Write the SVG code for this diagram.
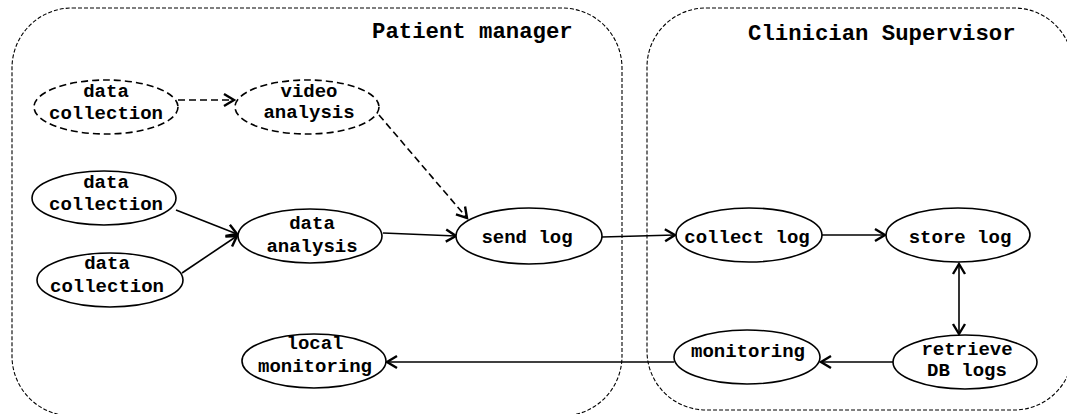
<svg xmlns="http://www.w3.org/2000/svg" width="1067" height="414" viewBox="0 0 1067 414">
  <style>
    .lane { fill: none; stroke: #000; stroke-width: 1.1; stroke-dasharray: 4 2; }
    .title { font-family: "Liberation Mono", "Courier New", monospace; font-weight: bold; font-size: 22.3px; fill: #000; }
    .node { fill: #fff; stroke: #000; stroke-width: 1.6; }
    .node.opt { stroke-dasharray: 7 4; }
    .lbl { font-family: "Liberation Mono", "Courier New", monospace; font-weight: bold; font-size: 19px; fill: #000; text-anchor: middle; }
    .edge { fill: none; stroke: #000; stroke-width: 1.6; marker-end: url(#arrow); }
    .edge.opt { stroke-dasharray: 7 4; }
    .edge.both { marker-start: url(#arrow); }
  </style>
  <defs>
    <marker id="arrow" markerUnits="userSpaceOnUse" markerWidth="14" markerHeight="16" refX="11" refY="7" orient="auto-start-reverse" viewBox="0 0 14 14">
      <path d="M1,1 L11,7 L1,13" fill="none" stroke="#000" stroke-width="2.4" stroke-linejoin="miter"/>
    </marker>
  </defs>
  <rect width="1067" height="414" fill="#fff"/>

  <!-- swimlanes -->
  <g id="lane-patient">
    <rect class="lane" x="12" y="8" width="610" height="408" rx="60" ry="60"/>
    <text class="title" x="372" y="38">Patient manager</text>
  </g>
  <g id="lane-clinician">
    <rect class="lane" x="647" y="8" width="426" height="402" rx="59" ry="59"/>
    <text class="title" x="748" y="40">Clinician Supervisor</text>
  </g>

  <!-- connectors -->
  <g id="connectors">
    <line class="edge opt" x1="178" y1="100" x2="234" y2="100"/>
    <line class="edge opt" x1="379" y1="115" x2="467" y2="218"/>
    <line class="edge" x1="176" y1="210" x2="237" y2="234"/>
    <line class="edge" x1="182" y1="273" x2="237" y2="236"/>
    <line class="edge" x1="383" y1="233" x2="456" y2="236"/>
    <line class="edge" x1="602" y1="237" x2="675" y2="235"/>
    <line class="edge" x1="822" y1="235" x2="885" y2="235"/>
    <line class="edge both" x1="959" y1="264" x2="959" y2="334"/>
    <line class="edge" x1="893" y1="362" x2="821" y2="362"/>
    <line class="edge" x1="674" y1="362" x2="387" y2="362"/>
  </g>

  <!-- nodes -->
  <g id="n-collect-video">
    <ellipse class="node opt" cx="106" cy="107" rx="72" ry="27"/>
    <text class="lbl" x="106" y="97">data</text>
    <text class="lbl" x="106" y="119">collection</text>
  </g>
  <g id="n-video-analysis">
    <ellipse class="node opt" cx="307" cy="107" rx="72" ry="27"/>
    <text class="lbl" x="309" y="97">video</text>
    <text class="lbl" x="309" y="118">analysis</text>
  </g>
  <g id="n-collect-a">
    <ellipse class="node" cx="104" cy="198" rx="72" ry="27"/>
    <text class="lbl" x="106" y="188">data</text>
    <text class="lbl" x="106" y="210">collection</text>
  </g>
  <g id="n-collect-b">
    <ellipse class="node" cx="110" cy="280" rx="73" ry="27"/>
    <text class="lbl" x="107" y="269">data</text>
    <text class="lbl" x="107" y="292">collection</text>
  </g>
  <g id="n-data-analysis">
    <ellipse class="node" cx="310" cy="236" rx="72" ry="27"/>
    <text class="lbl" x="312" y="229">data</text>
    <text class="lbl" x="312" y="252">analysis</text>
  </g>
  <g id="n-send-log">
    <ellipse class="node" cx="529" cy="236" rx="73" ry="28"/>
    <text class="lbl" x="527" y="243">send log</text>
  </g>
  <g id="n-collect-log">
    <ellipse class="node" cx="749" cy="235" rx="73" ry="27"/>
    <text class="lbl" x="747" y="243">collect log</text>
  </g>
  <g id="n-store-log">
    <ellipse class="node" cx="958" cy="235" rx="72" ry="27"/>
    <text class="lbl" x="960" y="243">store log</text>
  </g>
  <g id="n-monitoring">
    <ellipse class="node" cx="747" cy="357" rx="73" ry="27"/>
    <text class="lbl" x="748" y="357">monitoring</text>
  </g>
  <g id="n-retrieve">
    <ellipse class="node" cx="965" cy="362" rx="72" ry="27"/>
    <text class="lbl" x="967" y="355">retrieve</text>
    <text class="lbl" x="967" y="376">DB logs</text>
  </g>
  <g id="n-local-monitoring">
    <ellipse class="node" cx="314" cy="361" rx="72" ry="27"/>
    <text class="lbl" x="315" y="349">local</text>
    <text class="lbl" x="315" y="372">monitoring</text>
  </g>
</svg>
